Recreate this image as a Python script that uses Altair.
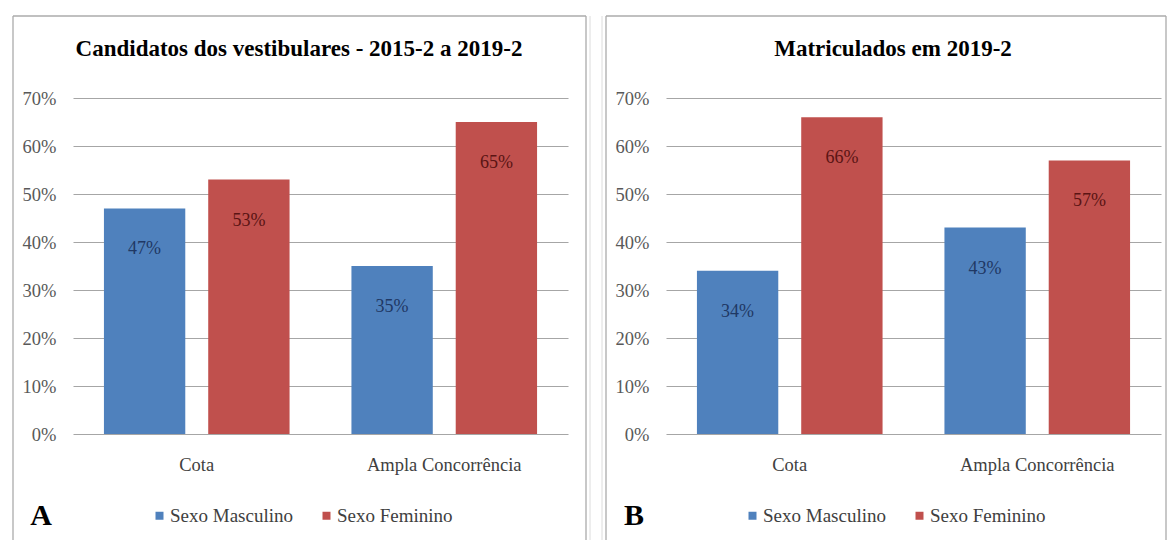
import altair as alt
import pandas as pd

# Categories, series and tick values
categorias = ["Cota", "Ampla Concorrência"]
sexos = ["Sexo Masculino", "Sexo Feminino"]
candidatos_masc = [0.47, 0.35]
candidatos_fem = [0.53, 0.65]
matriculados_masc = [0.34, 0.43]
matriculados_fem = [0.66, 0.57]
y_ticks = [0.0, 0.1, 0.2, 0.3, 0.4, 0.5, 0.6, 0.7]

titulo_a = "Candidatos dos vestibulares - 2015-2 a 2019-2"
titulo_b = "Matriculados em 2019-2"

BLUE = "#4F81BD"
RED = "#C0504D"
BLUE_TXT = "#1F3864"
RED_TXT = "#5A1414"
SERIF = "Liberation Serif"
W, H = 495, 336


def build_frame(masc, fem):
    rows = []
    for i, c in enumerate(categorias):
        rows.append({"categoria": c, "sexo": sexos[0], "valor": masc[i]})
        rows.append({"categoria": c, "sexo": sexos[1], "valor": fem[i]})
    return pd.DataFrame(rows)


def one_row(text):
    return pd.DataFrame({"t": [text]})


def panel(df, titulo, letra, title_x, frame_right, sheet_lines):
    x = alt.X(
        "categoria:N",
        sort=categorias,
        scale=alt.Scale(paddingInner=0.25, paddingOuter=0.125),
        axis=alt.Axis(
            title=None, labelAngle=0, ticks=False, domain=False,
            labelFont=SERIF, labelFontSize=18.5, labelColor="#404040",
            labelPadding=21,
        ),
    )
    xo = alt.XOffset("sexo:N", sort=sexos,
                     scale=alt.Scale(paddingInner=0.22, paddingOuter=0))
    y = alt.Y(
        "valor:Q",
        scale=alt.Scale(domain=[0, 0.7], nice=False),
        axis=alt.Axis(
            title=None, values=y_ticks, format=".0%", ticks=False,
            domain=False, labelFont=SERIF, labelFontSize=18.5,
            labelColor="#595959", labelPadding=17,
            gridColor="#A6A6A6", gridWidth=1.2,
        ),
    )

    base = alt.Chart(df)
    bars = base.mark_bar().encode(
        x=x, xOffset=xo, y=y,
        color=alt.Color(
            "sexo:N", sort=sexos,
            scale=alt.Scale(domain=sexos, range=[BLUE, RED]),
            legend=alt.Legend(
                title=None, orient="none", direction="horizontal",
                legendX=77, legendY=408, symbolType="square",
                symbolSize=64, symbolStrokeWidth=0, labelFont=SERIF,
                labelFontSize=19, labelColor="#404040", labelOffset=1,
                columnPadding=24,
            ),
        ),
    )

    def value_labels(sexo, cor):
        return base.transform_filter(alt.datum.sexo == sexo).mark_text(
            font=SERIF, fontSize=18, baseline="middle", dy=41, color=cor
        ).encode(x=x, xOffset=xo, y=y,
                 text=alt.Text("valor:Q", format=".0%"))

    title = alt.Chart(one_row(titulo)).mark_text(
        font=SERIF, fontSize=23, fontWeight="bold", color="#000000",
        baseline="middle", align="center",
    ).encode(text="t:N", x=alt.value(title_x), y=alt.value(-49))

    letter = alt.Chart(one_row(letra)).mark_text(
        font=SERIF, fontSize=30, fontWeight="bold", color="#000000",
        baseline="middle", align="center",
    ).encode(text="t:N", x=alt.value(-32), y=alt.value(418))

    # faint worksheet cell lines showing between the two chart frames
    sheet = alt.Chart(one_row("")).mark_rule(color="#DCDCDC", strokeWidth=1)
    sheet_layers = [
        sheet.encode(x=alt.value(sx), y=alt.value(-82), y2=alt.value(443))
        for sx in sheet_lines
    ]

    frame = alt.Chart(one_row("")).mark_rule(color="#ABABAB", strokeWidth=1.3)
    left_edge = frame.encode(x=alt.value(-60), y=alt.value(-82), y2=alt.value(443))
    right_edge = frame.encode(x=alt.value(frame_right), y=alt.value(-82), y2=alt.value(443))
    top_edge = frame.encode(x=alt.value(-60), x2=alt.value(frame_right), y=alt.value(-82))

    return alt.layer(
        *sheet_layers, left_edge, right_edge, top_edge, bars,
        value_labels(sexos[0], BLUE_TXT), value_labels(sexos[1], RED_TXT),
        title, letter,
    ).properties(width=W, height=H)


left = panel(build_frame(candidatos_masc, candidatos_fem), titulo_a, "A", 226, 513, [517])
right = panel(build_frame(matriculados_masc, matriculados_fem), titulo_b, "B", 227, 500, [-64])

chart = alt.hconcat(left, right, spacing=98, bounds="flush").resolve_scale(
    color="independent"
).configure(
    padding={"left": 12, "top": 15, "right": 0, "bottom": 0},
    background="#FFFFFF",
).configure_axis(
    labelFont=SERIF
).configure_legend(
    labelFont=SERIF
).configure_view(stroke=None)

chart.save("out.html", embed_options={"renderer": "svg", "actions": False})
